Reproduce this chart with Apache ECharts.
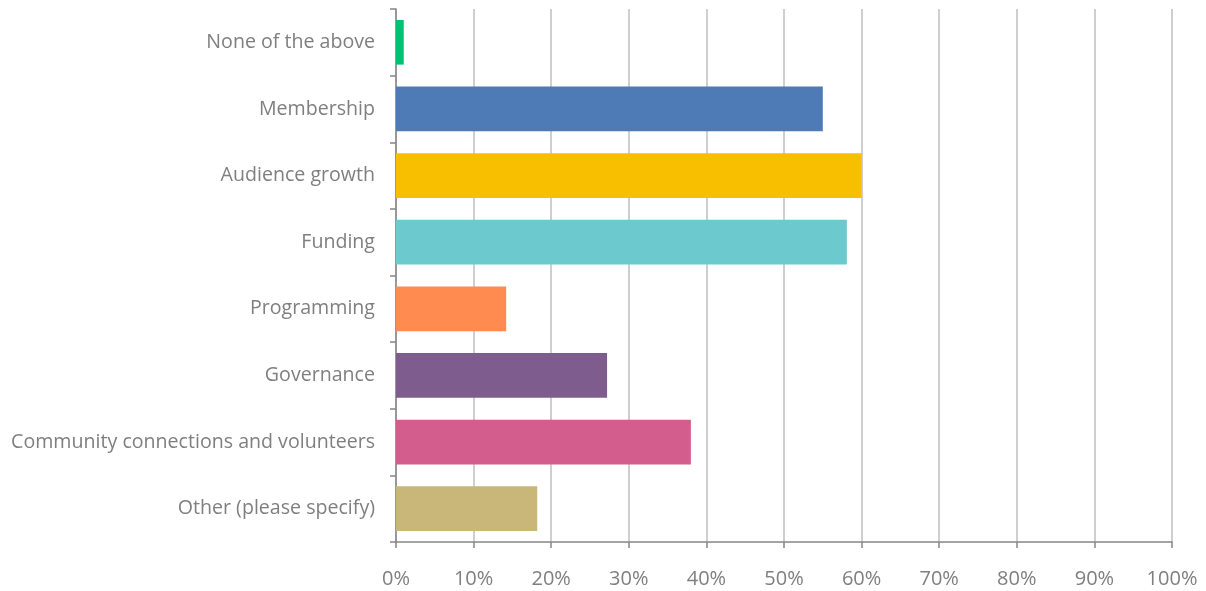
<!DOCTYPE html>
<html>
<head>
<meta charset="utf-8">
<style>
  html, body { margin: 0; padding: 0; background: #fff; }
  #chart { width: 1206px; height: 591px; }
</style>
<script src="https://cdn.jsdelivr.net/npm/echarts@6/dist/echarts.min.js"></script>
</head>
<body>
<div id="chart"></div>
<script>
// Survey response categories, listed top to bottom
const categories = [
  'None of the above',
  'Membership',
  'Audience growth',
  'Funding',
  'Programming',
  'Governance',
  'Community connections and volunteers',
  'Other (please specify)'
];

// Share of respondents (%)
const shares = [1.0, 55.0, 60.0, 58.1, 14.2, 27.2, 38.0, 18.2];

// Percent tick values along the horizontal axis
const tickMin = 0;
const tickMax = 100;
const tickStep = 10;

const barColors = ['#00c275', '#4e7bb5', '#f8be00', '#6cc9cd', '#ff8b50', '#7e5d8e', '#d35e8e', '#c8b778'];

const chart = echarts.init(document.getElementById('chart'), null, { renderer: 'canvas' });
const font = 'Open Sans';

chart.setOption({
  animation: false,
  backgroundColor: '#ffffff',
  grid: { left: 396, right: 34, top: 9, bottom: 49, containLabel: false },
  xAxis: {
    type: 'value',
    min: tickMin,
    max: tickMax,
    interval: tickStep,
    axisLine: { show: true, lineStyle: { color: '#868686', width: 1.5 } },
    axisTick: { show: true, length: 6, lineStyle: { color: '#868686', width: 1.5 } },
    splitLine: { show: true, lineStyle: { color: '#bfbfbf', width: 1.5 } },
    axisLabel: {
      formatter: '{value}%',
      color: '#7f7f7f',
      fontFamily: font,
      fontSize: 20,
      margin: 27
    }
  },
  yAxis: {
    type: 'category',
    data: categories,
    inverse: true,
    axisLine: { show: true, lineStyle: { color: '#868686', width: 1.5 } },
    axisTick: { show: true, length: 6, alignWithLabel: false, lineStyle: { color: '#868686', width: 1.5 } },
    splitLine: { show: false },
    axisLabel: {
      color: '#7f7f7f',
      fontFamily: font,
      fontSize: 19.6,
      margin: 21
    }
  },
  series: [{
    type: 'bar',
    barWidth: '67%',
    data: shares.map((v, i) => ({ value: v, itemStyle: { color: barColors[i] } }))
  }]
});
</script>
</body>
</html>
